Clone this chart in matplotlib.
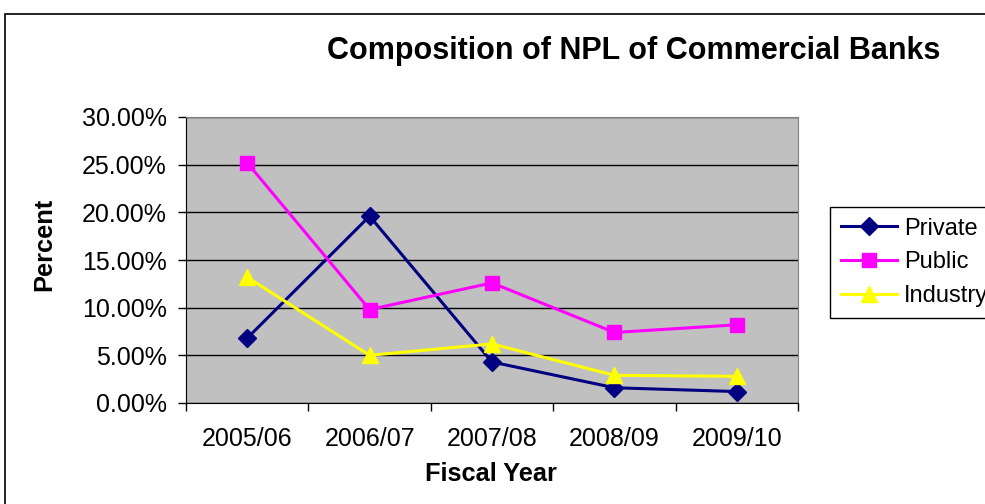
import matplotlib.pyplot as plt
from matplotlib.patches import Rectangle
from matplotlib.ticker import FuncFormatter, MultipleLocator

# Data
years = ["2005/06", "2006/07", "2007/08", "2008/09", "2009/10"]
private = [6.8, 19.6, 4.3, 1.6, 1.2]
public = [25.2, 9.8, 12.6, 7.4, 8.2]
industry = [13.2, 5.0, 6.2, 2.9, 2.8]

plt.rcParams['font.family'] = ['Liberation Sans', 'DejaVu Sans']

fig = plt.figure(figsize=(9.85, 5.04), dpi=100)
ax = fig.add_axes([186 / 985, 1 - 403 / 504, 612 / 985, 286 / 504])
ax.set_facecolor('#C0C0C0')

x = list(range(len(years)))
ax.plot(x, private, color='#000080', marker='D', markersize=9, linewidth=2.2, label='Private', zorder=3)
ax.plot(x, public, color='#FF00FF', marker='s', markersize=10, linewidth=2.2, label='Public', zorder=3)
ax.plot(x, industry, color='#FFFF00', marker='^', markersize=12, linewidth=2.2, label='Industry', zorder=3)

ax.set_xlim(-0.5, len(years) - 0.5)
ax.set_ylim(0, 30)
ax.yaxis.set_major_locator(MultipleLocator(5))
ax.yaxis.set_major_formatter(FuncFormatter(lambda v, p: f"{v:.2f}%"))
ax.grid(True, axis='y', color='black', linewidth=1)
ax.set_axisbelow(True)

# category labels at centres, tick marks at boundaries
ax.set_xticks(x)
ax.set_xticklabels(years)
ax.set_xticks([i - 0.5 for i in range(len(years) + 1)], minor=True)
ax.tick_params(axis='x', which='major', length=0, pad=17, labelsize=18)
ax.tick_params(axis='x', which='minor', length=6, direction='out', width=1)
ax.tick_params(axis='y', length=6, width=1, pad=8, labelsize=18)

for s in ['top', 'right']:
    ax.spines[s].set_color('#808080')
for s in ['left', 'bottom']:
    ax.spines[s].set_color('black')

ax.set_xlabel("Fiscal Year", fontsize=18.3, fontweight='bold')
ax.set_ylabel("Percent", fontsize=18.3, fontweight='bold')
ax.xaxis.set_label_coords(0.498, -0.205)
ax.yaxis.set_label_coords(-0.212, 0.556)

fig.text(634 / 985, 1 - 51 / 504, "Composition of NPL of Commercial Banks",
         fontsize=22, fontweight='bold', ha='center', va='center')

leg = ax.legend(loc='upper left', bbox_to_anchor=(830 / 985, 1 - 207 / 504),
                bbox_transform=fig.transFigure, fontsize=17, frameon=True,
                fancybox=False, edgecolor='black', framealpha=1,
                borderpad=0.45, labelspacing=0.5, handlelength=2.4, handletextpad=0.3,
                borderaxespad=0)
leg.get_frame().set_linewidth(1)

# chart border (extends past the right/bottom edges)
fig.patches.append(Rectangle((5 / 985, -0.1), 1.2, 1 - 14 / 504 + 0.1,
                             transform=fig.transFigure, fill=False,
                             edgecolor='black', linewidth=1.2))

fig.savefig("out.png", dpi=100)
